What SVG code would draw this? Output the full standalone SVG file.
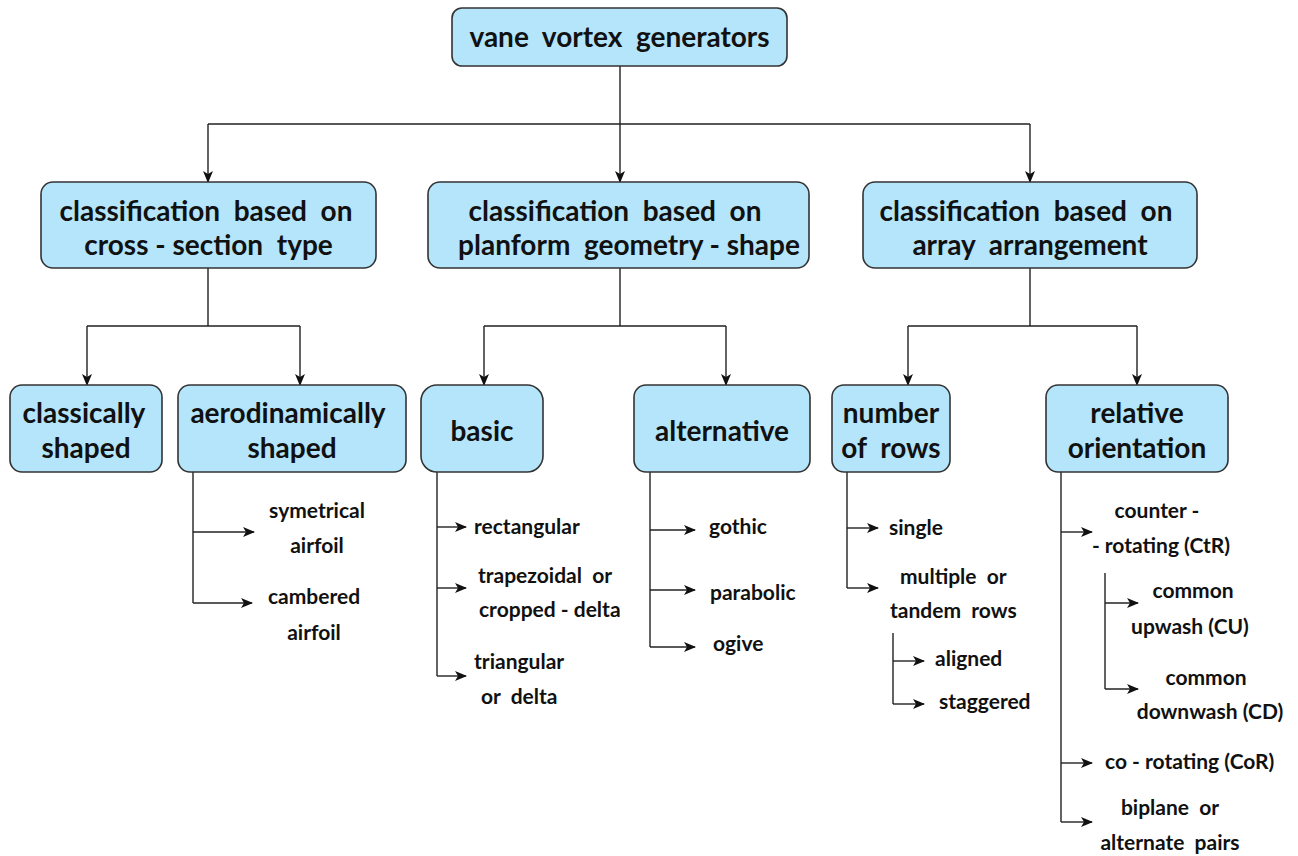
<svg xmlns="http://www.w3.org/2000/svg" width="1298" height="856" viewBox="0 0 1298 856">
<defs>
<marker id="arr" markerWidth="12" markerHeight="10" refX="11" refY="5" orient="auto" markerUnits="userSpaceOnUse">
<path d="M0,0 L12,5 L0,10 L3,5 z" fill="#111"/>
</marker>
<style>
.box{fill:#b4e5fb;stroke:#333;stroke-width:1.6}
.bt{font-family:Lato,"Open Sans",sans-serif;font-weight:700;font-size:28px;fill:#111;text-anchor:middle;white-space:pre}
.lt{font-family:Lato,"Open Sans",sans-serif;font-weight:700;font-size:21px;fill:#111;white-space:pre}
.c{text-anchor:middle}
.ln{fill:none;stroke:#222;stroke-width:1.4}
.ar{fill:none;stroke:#222;stroke-width:1.4;marker-end:url(#arr)}
</style>
</defs>
<rect width="1298" height="856" fill="#fff"/>

<g id="connectors">
<!-- root to level 2 -->
<path class="ln" d="M620,66 V124 M208,124 H1030"/>
<path class="ar" d="M208,124 V182"/>
<path class="ar" d="M620,124 V182"/>
<path class="ar" d="M1030,124 V182"/>
<!-- level 2 to level 3 -->
<path class="ln" d="M208,268 V326 M87,326 H300"/>
<path class="ar" d="M87,326 V385"/>
<path class="ar" d="M300,326 V385"/>
<path class="ln" d="M620,268 V326 M484,326 H726"/>
<path class="ar" d="M484,326 V385"/>
<path class="ar" d="M726,326 V385"/>
<path class="ln" d="M1030,268 V326 M908,326 H1137"/>
<path class="ar" d="M908,326 V385"/>
<path class="ar" d="M1137,326 V385"/>
<!-- aerodinamically shaped -->
<path class="ln" d="M193,472 V603"/>
<path class="ar" d="M193,532 H254"/>
<path class="ar" d="M193,603 H252"/>
<!-- basic -->
<path class="ln" d="M437,472 V676"/>
<path class="ar" d="M437,527 H466"/>
<path class="ar" d="M437,588 H466"/>
<path class="ar" d="M437,676 H466"/>
<!-- alternative -->
<path class="ln" d="M650,472 V647"/>
<path class="ar" d="M650,530 H695"/>
<path class="ar" d="M650,590 H695"/>
<path class="ar" d="M650,647 H695"/>
<!-- number of rows -->
<path class="ln" d="M847,472 V588"/>
<path class="ar" d="M847,528 H878"/>
<path class="ar" d="M847,588 H878"/>
<path class="ln" d="M893,633 V704"/>
<path class="ar" d="M893,661 H924"/>
<path class="ar" d="M893,704 H924"/>
<!-- relative orientation -->
<path class="ln" d="M1061,472 V822"/>
<path class="ar" d="M1061,532 H1092"/>
<path class="ar" d="M1061,763 H1092"/>
<path class="ar" d="M1061,822 H1092"/>
<path class="ln" d="M1105,573 V689"/>
<path class="ar" d="M1105,603 H1138"/>
<path class="ar" d="M1105,689 H1138"/>
</g>

<g id="n-root">
<rect class="box" x="452" y="8" width="335" height="58" rx="10"/>
<text class="bt" x="619.5" y="47">vane  vortex  generators</text>
</g>

<g id="n-cross">
<rect class="box" x="41" y="182" width="335" height="86" rx="12"/>
<text class="bt" x="206" y="221">classification  based  on</text>
<text class="bt" x="208.5" y="255">cross - section  type</text>
</g>
<g id="n-planform">
<rect class="box" x="428" y="182" width="381" height="86" rx="12"/>
<text class="bt" x="615" y="221">classification  based  on</text>
<text class="bt" x="629" y="255">planform  geometry - shape</text>
</g>
<g id="n-array">
<rect class="box" x="863" y="182" width="334" height="86" rx="12"/>
<text class="bt" x="1026" y="221">classification  based  on</text>
<text class="bt" x="1030" y="255">array  arrangement</text>
</g>

<g id="n-classical">
<rect class="box" x="10" y="385" width="152" height="87" rx="12"/>
<text class="bt" x="84" y="423">classically</text>
<text class="bt" x="86" y="458">shaped</text>
</g>
<g id="n-aero">
<rect class="box" x="178" y="385" width="228" height="87" rx="12"/>
<text class="bt" x="288" y="423">aerodinamically</text>
<text class="bt" x="292" y="458">shaped</text>
</g>
<g id="n-basic">
<rect class="box" x="421" y="385" width="122" height="87" rx="16"/>
<text class="bt" x="482" y="441">basic</text>
</g>
<g id="n-alternative">
<rect class="box" x="634" y="385" width="176" height="87" rx="12"/>
<text class="bt" x="722" y="441">alternative</text>
</g>
<g id="n-rows">
<rect class="box" x="832" y="385" width="118" height="87" rx="12"/>
<text class="bt" x="891" y="423">number</text>
<text class="bt" x="891" y="458">of  rows</text>
</g>
<g id="n-orient">
<rect class="box" x="1046" y="385" width="182" height="87" rx="12"/>
<text class="bt" x="1137" y="423">relative</text>
<text class="bt" x="1137" y="458">orientation</text>
</g>

<g id="l-aero">
<text class="lt c" x="317" y="518">symetrical</text>
<text class="lt c" x="317" y="553">airfoil</text>
<text class="lt c" x="314" y="604">cambered</text>
<text class="lt c" x="314" y="640">airfoil</text>
</g>
<g id="l-basic">
<text class="lt" x="474" y="534">rectangular</text>
<text class="lt" x="478" y="583">trapezoidal  or</text>
<text class="lt" x="479" y="617">cropped - delta</text>
<text class="lt" x="474" y="669">triangular</text>
<text class="lt" x="481" y="704">or  delta</text>
</g>
<g id="l-alternative">
<text class="lt" x="709" y="534">gothic</text>
<text class="lt" x="710" y="600">parabolic</text>
<text class="lt" x="713" y="651">ogive</text>
</g>
<g id="l-rows">
<text class="lt" x="889" y="535">single</text>
<text class="lt" x="900" y="584">multiple  or</text>
<text class="lt" x="890" y="618">tandem  rows</text>
<text class="lt" x="935" y="666">aligned</text>
<text class="lt" x="939" y="709">staggered</text>
</g>
<g id="l-orient">
<text class="lt c" x="1157" y="518">counter -</text>
<text class="lt c" x="1161" y="553">- rotating (CtR)</text>
<text class="lt c" x="1193" y="598">common</text>
<text class="lt c" x="1190" y="634">upwash (CU)</text>
<text class="lt c" x="1206" y="685">common</text>
<text class="lt c" x="1210" y="719">downwash (CD)</text>
<text class="lt" x="1105" y="769">co - rotating (CoR)</text>
<text class="lt c" x="1170" y="815">biplane  or</text>
<text class="lt c" x="1170" y="850">alternate  pairs</text>
</g>
</svg>
